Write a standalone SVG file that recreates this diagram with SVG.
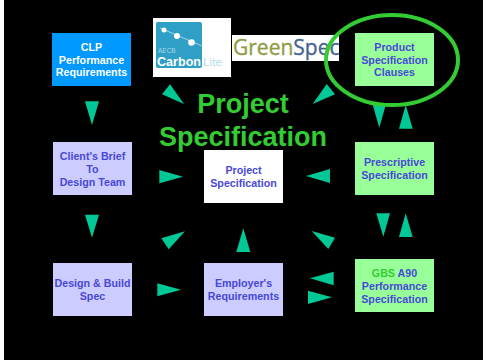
<svg xmlns="http://www.w3.org/2000/svg" width="486" height="360" viewBox="0 0 486 360">
<style>
.box{stroke:none}
.lav{fill:#ccccff}.grn{fill:#99ff99}.blu{fill:#0099ff}.wht{fill:#fff}
text{font-family:"Liberation Sans",Arial,sans-serif;font-weight:bold;text-anchor:middle}
.t{font-size:10.7px;fill:#4848d8}
.w{fill:#fff}
.title{font-size:27px;fill:#33cc33}
.arr{fill:#00c896}
.logo{text-anchor:start}
.gs{font-family:"Open Sans","Noto Sans",sans-serif;font-size:21px;font-weight:normal;stroke-width:0.35px}
</style>
<rect width="486" height="360" fill="#fff"/>
<rect x="4" width="479" height="360" fill="#000"/>

<g id="logo-carbonlite">
<rect x="153" y="18" width="78" height="59" fill="#fff"/>
<rect x="156" y="22" width="46" height="46" rx="2" fill="#2f9fc6"/>
<path d="M160 28 L202 46" stroke="#bfe4f0" stroke-width="0.8" fill="none"/>
<circle cx="164" cy="30" r="2.500" fill="#fff"/><circle cx="177" cy="36" r="3" fill="#fff"/><circle cx="191.500" cy="42.500" r="3.300" fill="#fff"/>
<text class="logo" x="158" y="52.500" style="font-size:6.500px;font-weight:normal" fill="#a9d9ea">AECB</text>
<text class="logo" x="157" y="66" style="font-size:13px" fill="#fff" textLength="44" lengthAdjust="spacingAndGlyphs">Carbon</text>
<text class="logo" x="203" y="66" style="font-size:10px;font-weight:normal" fill="#b5dcea" textLength="19" lengthAdjust="spacingAndGlyphs">Lite</text>
</g>

<g id="logo-greenspec">
<rect x="232" y="35" width="107" height="26" fill="#fff"/>
<text class="logo gs" x="233" y="55"><tspan fill="#8e9d45" stroke="#8e9d45">Green</tspan><tspan fill="#47638f" stroke="#47638f">Spec</tspan></text>
</g>

<g id="title"><text class="title" x="243" y="113">Project</text><text class="title" x="243" y="146">Specification</text></g>

<g id="connectors" class="arr">
<polygon points="85,101.300 99,101.300 92,125"/>
<polygon points="85,214.700 99,214.700 92,237.700"/>
<polygon points="159.300,170 159.300,183.300 183,176.700"/>
<polygon points="157.300,283.300 157.300,296.300 181,289.700"/>
<polygon points="185,231.300 161.300,238.300 168.700,249.300"/>
<polygon points="236.300,252 250.300,252 243.300,228.300"/>
<polygon points="162,94.300 170,84.300 184,104"/>
<polygon points="312.700,104 326.700,84 335,94.300"/>
<polygon points="306,176 330,169 330,183"/>
<polygon points="311.700,231 335,237.700 328.300,249"/>
<polygon points="310,278.300 333.700,271.700 333.700,285.300"/>
<polygon points="308,290.700 308,304 332,297.300"/>
<polygon points="376.300,213.300 390,213.300 383.300,236.700"/>
<polygon points="399,237 412.700,237 405.700,213.300"/>
<polygon points="372.500,104 386,104 379.300,127.700"/>
<polygon points="399,128.700 412.700,128.700 405.700,105"/>
</g>

<g id="node-clp"><rect class="box blu" x="52" y="33" width="79" height="53"/><text class="t w" x="91.500" y="51">CLP</text><text class="t w" x="91.500" y="63.500">Performance</text><text class="t w" x="91.500" y="76">Requirements</text></g>
<g id="node-client"><rect class="box lav" x="53" y="142" width="79" height="53"/><text class="t" x="92.500" y="160">Client's Brief</text><text class="t" x="92.500" y="173">To</text><text class="t" x="92.500" y="186">Design Team</text></g>
<g id="node-project"><rect class="box wht" x="204" y="150" width="79" height="53"/><text class="t" x="243.500" y="174">Project</text><text class="t" x="243.500" y="187">Specification</text></g>
<g id="node-design"><rect class="box lav" x="53" y="263" width="79" height="53"/><text class="t" x="92.500" y="287">Design &amp; Build</text><text class="t" x="92.500" y="300">Spec</text></g>
<g id="node-employer"><rect class="box lav" x="204" y="263" width="79" height="53"/><text class="t" x="243.500" y="287">Employer's</text><text class="t" x="243.500" y="300">Requirements</text></g>
<g id="node-product"><rect class="box grn" x="355" y="33" width="79" height="53"/><text class="t" x="394.500" y="51">Product</text><text class="t" x="394.500" y="63.500">Specification</text><text class="t" x="394.500" y="76">Clauses</text></g>
<g id="node-prescriptive"><rect class="box grn" x="355" y="142" width="79" height="53"/><text class="t" x="394.500" y="166">Prescriptive</text><text class="t" x="394.500" y="179">Specification</text></g>
<g id="node-gbs"><rect class="box grn" x="355" y="259" width="79" height="53"/><text class="t" x="394.500" y="277"><tspan fill="#33cc33">GBS</tspan> A90</text><text class="t" x="394.500" y="290">Performance</text><text class="t" x="394.500" y="303">Specification</text></g>

<g id="highlight"><ellipse cx="392" cy="60" rx="66" ry="45" fill="none" stroke="#33cc33" stroke-width="4"/></g>
</svg>
